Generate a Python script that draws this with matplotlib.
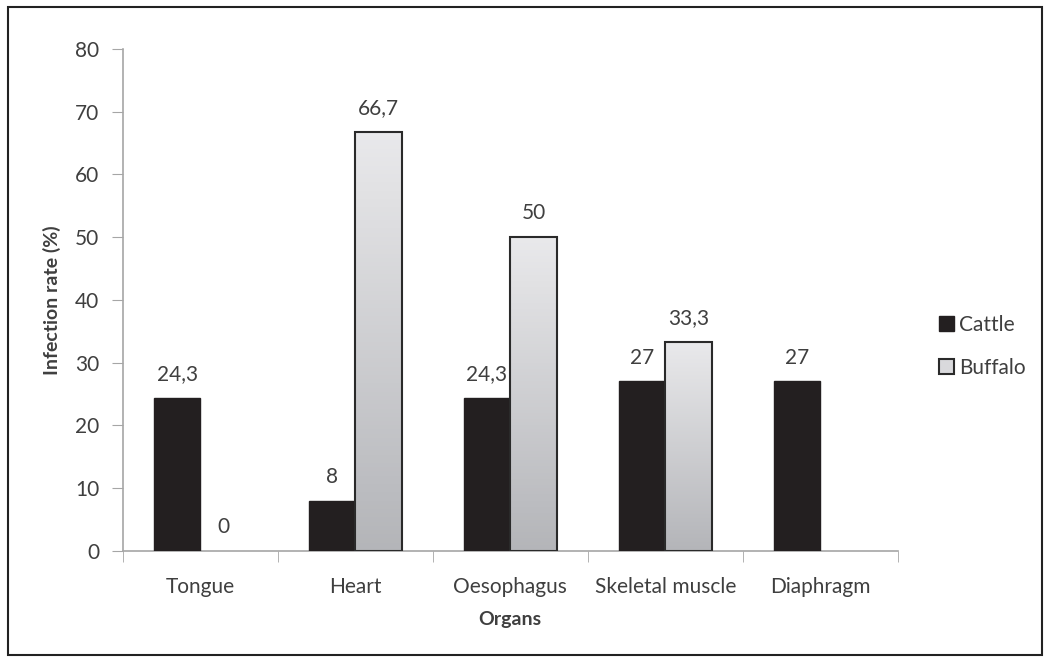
import matplotlib
matplotlib.use('Agg')
import matplotlib.pyplot as plt
import numpy as np
from matplotlib.patches import Rectangle
from matplotlib.colors import LinearSegmentedColormap

# --- data ---
organs = ['Tongue', 'Heart', 'Oesophagus', 'Skeletal muscle', 'Diaphragm']
cattle = [24.3, 8, 24.3, 27, 27]
buffalo = [0, 66.7, 50, 33.3, None]
y_ticks = [0, 10, 20, 30, 40, 50, 60, 70, 80]

plt.rcParams['font.family'] = ['Lato', 'DejaVu Sans']
txt = '#3f3f3f'
spine = '#a6a6a6'
fs = 15

fig = plt.figure(figsize=(10.5, 6.62), dpi=100)
ax = fig.add_axes([0.117, 0.168, 0.738, 0.758])

x = np.arange(len(organs))
w = 0.3
grad = LinearSegmentedColormap.from_list('g', ['#b4b5b9', '#e9e9eb'])

def fmt(v):
    return ('%g' % v).replace('.', ',')

for i in x:
    c = cattle[i]
    ax.bar(i - w / 2, c, w, color='#231f20', edgecolor='#231f20', linewidth=1, zorder=3)
    ax.annotate(fmt(c), (i - w / 2, c), xytext=(0, 10), textcoords='offset points',
                ha='center', va='bottom', fontsize=fs, color=txt)
    b = buffalo[i]
    if b is None:
        continue
    if b > 0:
        # gradient fill clipped to the bar outline
        r = Rectangle((i, 0), w, b, facecolor='none', edgecolor='#2a2a2a', linewidth=1.5, zorder=4)
        ax.add_patch(r)
        im = ax.imshow(np.linspace(0, 1, 100).reshape(-1, 1), cmap=grad, aspect='auto',
                       extent=[i, i + w, 0, b], origin='lower', zorder=3)
        im.set_clip_path(r)
    ax.annotate(fmt(b), (i + w / 2, b), xytext=(0, 10), textcoords='offset points',
                ha='center', va='bottom', fontsize=fs, color=txt)

ax.set_xlim(-0.5, len(organs) - 0.5)
ax.set_ylim(0, 80)
ax.set_yticks(y_ticks)
ax.set_xticks(x)
ax.set_xticklabels(organs)
ax.set_xticks(np.arange(len(organs) + 1) - 0.5, minor=True)
ax.tick_params(axis='x', which='major', length=0, pad=19, labelsize=fs, labelcolor=txt)
ax.tick_params(axis='x', which='minor', length=8, color=spine, direction='out')
ax.tick_params(axis='y', length=8, color=spine, pad=9, labelsize=fs, labelcolor=txt)

for s in ['top', 'right']:
    ax.spines[s].set_visible(False)
for s in ['left', 'bottom']:
    ax.spines[s].set_color(spine)
    ax.spines[s].set_linewidth(1.2)

ax.set_ylabel('Infection rate (%)', fontsize=14, fontweight='bold', color=txt, labelpad=10)
ax.set_xlabel('Organs', fontsize=14, fontweight='bold', color=txt, labelpad=10)

# legend
h1 = Rectangle((0, 0), 1, 1, facecolor='#231f20', edgecolor='#231f20')
h2 = Rectangle((0, 0), 1, 1, facecolor='#d9d9dc', edgecolor='#2a2a2a', linewidth=1.5)
fig.legend([h1, h2], ['Cattle', 'Buffalo'], loc='center left', bbox_to_anchor=(0.876, 0.477),
           frameon=False, fontsize=fs, labelcolor=txt, handlelength=0.75, handleheight=0.75,
           handletextpad=0.25, labelspacing=1.1)

# outer frame
fig.patches.append(Rectangle((0.008, 0.011), 0.984, 0.978, transform=fig.transFigure,
                             fill=False, edgecolor='#222222', linewidth=1.5))

fig.savefig('out.png', dpi=100)
